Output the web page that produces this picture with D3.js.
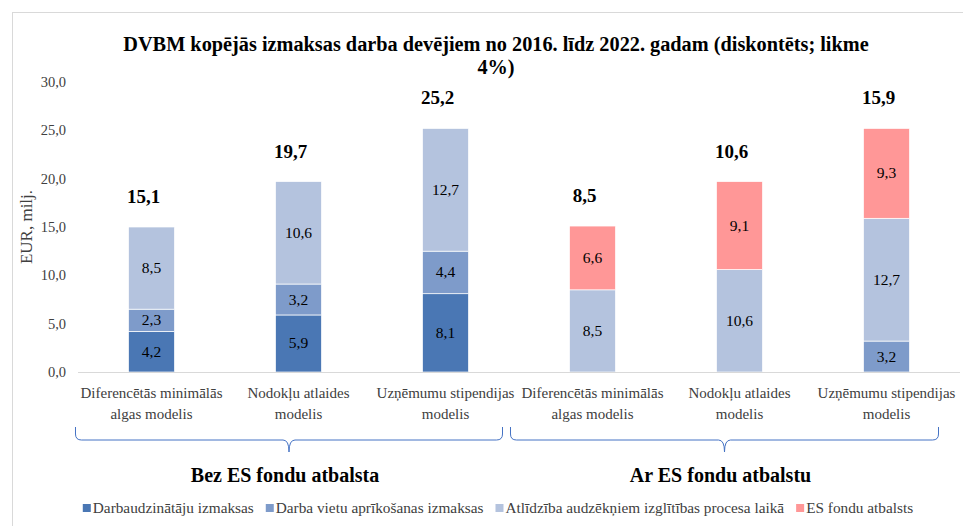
<!DOCTYPE html>
<html>
<head>
<meta charset="utf-8">
<script src="https://cdn.jsdelivr.net/npm/d3@7"></script>
<style>
  html, body { margin: 0; padding: 0; background: #fff; }
  svg { display: block; font-family: "Liberation Serif", "Times New Roman", serif; }
</style>
</head>
<body>
<svg id="chart" width="963" height="526"></svg>
<script>
// ---- Data ----
const titleLines = ["DVBM kopējās izmaksas darba devējiem no 2016. līdz 2022. gadam (diskontēts; likme", "4%)"];
const categories = [
  ["Diferencētās minimālās", "algas modelis"],
  ["Nodokļu atlaides", "modelis"],
  ["Uzņēmumu stipendijas", "modelis"],
  ["Diferencētās minimālās", "algas modelis"],
  ["Nodokļu atlaides", "modelis"],
  ["Uzņēmumu stipendijas", "modelis"]
];
const groupNames = ["Bez ES fondu atbalsta", "Ar ES fondu atbalstu"];
const groupMembers = [[0, 1, 2], [3, 4, 5]];
const seriesNames = ["Darbaudzinātāju izmaksas", "Darba vietu aprīkošanas izmaksas", "Atlīdzība audzēkņiem izglītības procesa laikā", "ES fondu atbalsts"];
const darbaudzinataju = [4.2, 5.9, 8.1, 0, 0, 0];
const darbaVietu = [2.3, 3.2, 4.4, 0, 0, 3.2];
const atlidziba = [8.5, 10.6, 12.7, 8.5, 10.6, 12.7];
const esFondu = [0, 0, 0, 6.6, 9.1, 9.3];
const totalLabels = [15.1, 19.7, 25.2, 8.5, 10.6, 15.9];
const yTicks = [0, 5, 10, 15, 20, 25, 30];
const yLabel = "EUR, milj.";
const colors = ["#4a77b4", "#7e9bca", "#b4c3de", "#ff9797"];

// ---- Layout ----
const svg = d3.select("#chart");
const fmt = v => d3.format(".1f")(v).replace(".", ",");

// outer border (top and left visible)
svg.append("rect").attr("x", 12.5).attr("y", 12.5).attr("width", 1000).attr("height", 600)
  .attr("fill", "none").attr("stroke", "#d9d9d9").attr("stroke-width", 1);

const plotLeft = 78, plotRight = 960, plotTop = 82, plotBottom = 372;
const x = d3.scaleBand().domain(d3.range(categories.length)).range([plotLeft, plotRight])
  .paddingInner(0.687).paddingOuter(0.3435);
const y = d3.scaleLinear().domain([0, 30]).range([plotBottom, plotTop]);

// title
const title = svg.append("text").attr("text-anchor", "middle").attr("font-weight", "bold")
  .attr("font-size", 20.3).attr("fill", "#000");
titleLines.forEach((t, i) => title.append("tspan").attr("x", 496).attr("y", 51 + i * 23).text(t));

// y axis (labels only)
const yAxis = d3.axisLeft(y).tickValues(yTicks).tickFormat(fmt).tickSize(0).tickPadding(0);
const yg = svg.append("g").attr("transform", `translate(66,0)`).call(yAxis);
yg.select(".domain").remove();
yg.selectAll("text").attr("font-family", "Liberation Serif, serif").attr("font-size", 14.5).attr("fill", "#404040");

svg.append("text").attr("transform", `translate(32,${(plotTop + plotBottom) / 2}) rotate(-90)`)
  .attr("text-anchor", "middle").attr("font-size", 17).attr("fill", "#404040").text(yLabel);

// stacked bars
const rows = categories.map((c, i) => ({
  i, s0: darbaudzinataju[i], s1: darbaVietu[i], s2: atlidziba[i], s3: esFondu[i]
}));
const stack = d3.stack().keys(["s0", "s1", "s2", "s3"]);
const stacked = stack(rows);

stacked.forEach((layer, li) => {
  const g = svg.append("g");
  g.selectAll("rect").data(layer.filter(d => d[1] - d[0] > 0)).join("rect")
    .attr("x", d => x(d.data.i))
    .attr("width", x.bandwidth())
    .attr("y", d => y(d[1]))
    .attr("height", d => y(d[0]) - y(d[1]))
    .attr("fill", colors[li])
    .attr("stroke", "#fff").attr("stroke-width", 0.7);
  g.selectAll("text").data(layer.filter(d => d[1] - d[0] > 0)).join("text")
    .attr("x", d => x(d.data.i) + x.bandwidth() / 2)
    .attr("y", d => (y(d[0]) + y(d[1])) / 2 + 5)
    .attr("text-anchor", "middle").attr("font-size", 15.5).attr("fill", "#000")
    .text(d => fmt(d[1] - d[0]));
});

// x axis line
svg.append("line").attr("x1", plotLeft).attr("x2", plotRight).attr("y1", plotBottom + 0.5).attr("y2", plotBottom + 0.5)
  .attr("stroke", "#d9d9d9").attr("stroke-width", 1);

// total labels
const totals = rows.map(r => r.s0 + r.s1 + r.s2 + r.s3);
svg.append("g").selectAll("text").data(totalLabels).join("text")
  .attr("x", (d, i) => x(i) + x.bandwidth() / 2 - 8)
  .attr("y", (d, i) => y(totals[i]) - 24)
  .attr("text-anchor", "middle").attr("font-weight", "bold").attr("font-size", 19).attr("fill", "#000")
  .text(d => fmt(d));

// category labels
const cat = svg.append("g").selectAll("text").data(categories).join("text")
  .attr("text-anchor", "middle").attr("font-size", 15).attr("fill", "#404040");
cat.each(function (d, i) {
  const t = d3.select(this);
  d.forEach((line, k) => t.append("tspan").attr("x", x(i) + x.bandwidth() / 2).attr("y", 398 + k * 21).text(line));
});

// braces
const braceTop = 427, braceMid = 440, braceTip = 452, r = 6;
groupMembers.forEach((mem, gi) => {
  const left = x(mem[0]) - 53 + gi * (-6);
  const right = x(mem[mem.length - 1]) + x.bandwidth() + 34 - gi * 5;
  const mid = (left + right) / 2;
  const p = d3.path();
  p.moveTo(left, braceTop);
  p.lineTo(left, braceMid - r);
  p.quadraticCurveTo(left, braceMid, left + r, braceMid);
  p.lineTo(mid - r, braceMid);
  p.quadraticCurveTo(mid, braceMid, mid, braceTip);
  p.quadraticCurveTo(mid, braceMid, mid + r, braceMid);
  p.lineTo(right - r, braceMid);
  p.quadraticCurveTo(right, braceMid, right, braceMid - r);
  p.lineTo(right, braceTop);
  svg.append("path").attr("d", p.toString()).attr("fill", "none").attr("stroke", "#4472c4").attr("stroke-width", 1);
  svg.append("text").attr("x", mid - 4).attr("y", 482).attr("text-anchor", "middle")
    .attr("font-weight", "bold").attr("font-size", 20).attr("fill", "#000").text(groupNames[gi]);
});

// legend
const legend = svg.append("g");
const items = legend.selectAll("g").data(seriesNames).join("g");
items.append("rect").attr("width", 8).attr("height", 8).attr("y", 504).attr("fill", (d, i) => colors[i]);
items.append("text").attr("x", 10).attr("y", 513).attr("font-size", 15.3).attr("fill", "#404040").text(d => d);
let widths = [];
items.each(function () { widths.push(this.querySelector("text").getComputedTextLength() + 10); });
const gap = 12;
const total = d3.sum(widths) + gap * (widths.length - 1);
let cx = 498 - total / 2;
items.each(function (d, i) { d3.select(this).attr("transform", `translate(${cx},0)`); cx += widths[i] + gap; });
</script>
</body>
</html>
